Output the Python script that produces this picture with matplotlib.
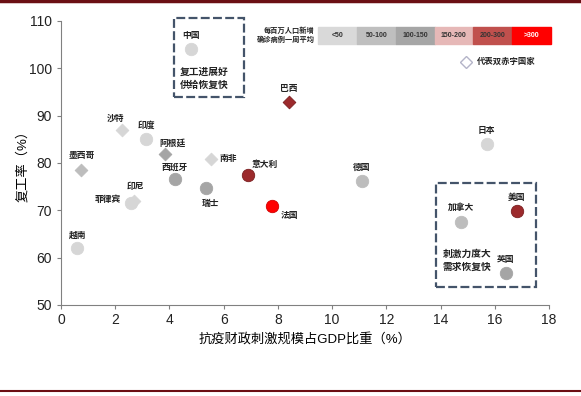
import matplotlib
matplotlib.use("Agg")
import matplotlib.pyplot as plt
from matplotlib.patches import Rectangle
from matplotlib.lines import Line2D

plt.rcParams['font.family'] = ['Liberation Sans', 'Noto Sans CJK SC']

# 数据: 国家, 财政刺激占GDP比重(%), 复工率(%)
countries = ['中国', '巴西', '沙特', '印度', '阿根廷', '南非', '墨西哥', '西班牙', '瑞士',
             '意大利', '法国', '印尼', '菲律宾', '越南', '德国', '日本', '加拿大', '美国', '英国']
stimulus = [4.8, 8.4, 2.25, 3.15, 3.85, 5.55, 0.75, 4.2, 5.35,
            6.9, 7.8, 2.7, 2.6, 0.6, 11.1, 15.7, 14.75, 16.8, 16.4]
recovery = [104.0, 92.8, 87.0, 85.0, 81.8, 80.9, 78.6, 76.7, 74.7,
            77.4, 71.0, 72.0, 71.5, 62.1, 76.2, 84.0, 67.6, 69.8, 56.7]
# 是否为双赤字国家(菱形)
double_deficit = [False, True, True, False, True, True, True, False, False,
                  False, False, True, False, False, False, False, False, False, False]
# 每百万人口新增确诊病例一周平均 分档
case_level = ['<50', '200-300', '<50', '<50', '100-150', '<50', '50-100', '100-150', '100-150',
              '200-300', '>300', '<50', '<50', '<50', '50-100', '<50', '50-100', '200-300', '100-150']

legend_levels = ['<50', '50-100', '100-150', '150-200', '200-300', '>300']
legend_colors = ['#d9d9d9', '#bfbfbf', '#a6a6a6', '#e6b8b7', '#c0504d', '#ff0000']
point_colors = {'<50': '#d6d6d6', '50-100': '#bdbdbd', '100-150': '#a5a5a5',
                '150-200': '#e6b8b7', '200-300': '#9c2a2c', '>300': '#ff0000'}

# 标签偏移 (points)
label_offsets = {
    '中国': (0, 10), '巴西': (0, 10), '沙特': (-5, 8), '印度': (0, 10), '阿根廷': (5, 8),
    '南非': (12, 0), '墨西哥': (0, 10), '西班牙': (0, 8), '瑞士': (3, -11),
    '意大利': (12, 8), '法国': (12, -7), '印尼': (1, 10), '菲律宾': (-17, 3), '越南': (0, 9),
    '德国': (0, 10), '日本': (0, 10), '加拿大': (0, 10), '美国': (0, 10), '英国': (0, 10),
}

fig = plt.figure(figsize=(5.81, 3.96), dpi=100)
ax = fig.add_axes([0.105, 0.23, 0.84, 0.717])

for name, xv, yv, dd, lvl in zip(countries, stimulus, recovery, double_deficit, case_level):
    c = point_colors[lvl]
    edge = '#7a1f20' if lvl == '200-300' else ('#d00000' if lvl == '>300' else c)
    if dd:
        ax.scatter(xv, yv, marker='D', s=42, color=c, edgecolors=edge, linewidths=0.6, zorder=3)
    else:
        ax.scatter(xv, yv, marker='o', s=80, color=c, edgecolors=edge, linewidths=0.6, zorder=3)
    ax.annotate(name, (xv, yv), xytext=label_offsets[name], textcoords='offset points',
                ha='center', va='center', fontsize=6.3, fontweight='bold', color='#222222')

ax.set_xlim(0, 18)
ax.set_ylim(50, 110)
ax.set_xticks(range(0, 19, 2))
ax.set_yticks(range(50, 111, 10))
ax.tick_params(labelsize=10, length=3, color='#808080', colors='#222222', direction='out')
ax.tick_params(axis='x', pad=3)
for s in ['top', 'right']:
    ax.spines[s].set_visible(False)
for s in ['left', 'bottom']:
    ax.spines[s].set_color('#808080')
ax.set_xlabel('抗疫财政刺激规模占GDP比重（%）', fontsize=9.5, labelpad=4)
ax.set_ylabel('复工率（%）', fontsize=9.5, labelpad=0)

# 虚线框
box_style = dict(fill=False, edgecolor='#44546a', linewidth=1.6, linestyle=(0, (4, 1.5)),
                 transform=fig.transFigure, zorder=5)
fig.add_artist(Rectangle((174 / 581, 1 - 97 / 396), 70 / 581, 79 / 396, **box_style))
fig.add_artist(Rectangle((436 / 581, 1 - 287 / 396), 100 / 581, 104 / 396, **box_style))
fig.text(204 / 581, 1 - 78 / 396, '复工进展好\n供给恢复快', ha='center', va='center',
         fontsize=7, fontweight='bold', color='#222222', linespacing=1.4)
fig.text(467 / 581, 1 - 260 / 396, '刺激力度大\n需求恢复快', ha='center', va='center',
         fontsize=7, fontweight='bold', color='#222222', linespacing=1.4)

# 图例色条
lx0, lw = 318 / 581, (551 - 318) / 581
ly0, lh = 1 - 44 / 396, 17 / 396
cell = lw / len(legend_levels)
for i, (lvl, c) in enumerate(zip(legend_levels, legend_colors)):
    fig.add_artist(Rectangle((lx0 + i * cell, ly0), cell, lh, color=c, transform=fig.transFigure))
    fig.text(lx0 + (i + 0.5) * cell, ly0 + lh / 2, lvl, ha='center', va='center', fontsize=5,
             color='white' if lvl == '>300' else '#333333', fontweight='bold')
fig.text(lx0 - 0.006, ly0 + lh / 2, '每百万人口新增\n确诊病例一周平均', ha='right', va='center',
         fontsize=5.2, fontweight='bold', color='#222222', linespacing=1.3)

fig.add_artist(Line2D([466 / 581], [1 - 62 / 396], marker='D', markersize=6, markerfacecolor='white',
                      markeredgecolor='#b4b4c8', markeredgewidth=1.0, linestyle='none',
                      transform=fig.transFigure))
fig.text(477 / 581, 1 - 62 / 396, '代表双赤字国家', ha='left', va='center',
         fontsize=6, fontweight='bold', color='#222222')

# 上下边线
fig.add_artist(Line2D([0, 1], [0.997, 0.997], color='#6b0f14', linewidth=2.5, transform=fig.transFigure))
fig.add_artist(Line2D([0, 1], [0.013, 0.013], color='#6b0f14', linewidth=1.5, transform=fig.transFigure))

fig.savefig('out.png', dpi=100)
